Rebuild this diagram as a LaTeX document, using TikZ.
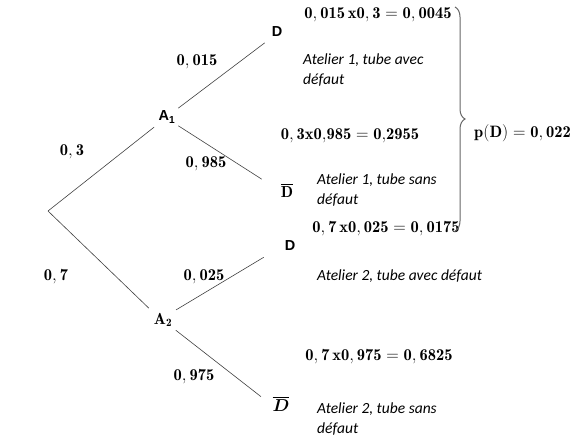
\documentclass[tikz,border=0pt]{standalone}
\usepackage{amsmath, amsfonts, amssymb}
\usepackage{fontspec}
\newfontfamily\arialfont{Liberation Sans}
\newfontfamily\calibrifont{Carlito}
\usetikzlibrary{decorations.pathreplacing,positioning}

\begin{document}
\begin{tikzpicture}[x=1pt,y=-1pt,
    branch/.style={draw=black!75,line width=0.6pt},
    proba/.style={inner sep=1pt,font=\fontsize{16.5}{19}\selectfont},
    issue/.style={inner sep=2pt,font=\fontsize{16}{18}\selectfont},
    sansissue/.style={issue,font=\arialfont\bfseries\fontsize{14.5}{17}\selectfont},
    comment/.style={anchor=north west,inner sep=0pt,align=left,
        font=\calibrifont\itshape\fontsize{15.5}{19.5}\selectfont}]
    \useasboundingbox (0,0) rectangle (575,442);
    % tree
    \coordinate (root) at (48,211);
    \node[sansissue] (A1) at (167,117) {A\textsubscript{1}};
    \node[issue] (A2) at (163,320) {$\mathbf{A_2}$};
    \node[sansissue] (D1) at (277,32) {D};
    \node[issue] (Db1) at (287,190) {$\overline{\mathbf{D}}$};
    \node[sansissue] (D2) at (290,246) {D};
    \node[issue] (Db2) at (281,404) {$\overline{\boldsymbol{D}}$};
    \draw[branch,shorten >=3pt] (root) -- (A1.south west);
    \draw[branch,shorten >=4pt] (root) -- (A2.north west);
    \draw[branch,shorten <=1pt,shorten >=6pt] (A1.north east) -- (D1.south west);
    \draw[branch,shorten <=1pt,shorten >=20pt] (A1.south east) -- (Db1.west);
    \draw[branch,shorten <=2pt,shorten >=22pt] (A2.north east) -- (D2.west);
    \draw[branch,shorten <=2pt,shorten >=12pt] (A2.south east) -- (Db2.west);
    % probabilities
    \node[proba] (p1) at (72,152) {$\mathbf{0,3}$};
    \node[proba] (p2) at (56,277) {$\mathbf{0,7}$};
    \node[proba] (p11) at (197,62) {$\mathbf{0,015}$};
    \node[proba] (p12) at (206,164) {$\mathbf{0,985}$};
    \node[proba] (p21) at (204,277) {$\mathbf{0,025}$};
    \node[proba] (p22) at (194,377) {$\mathbf{0,975}$};
    % results
    \node[proba] (r1) at (378,15) {$\mathbf{0,015\,x0,3=0,0045}$};
    \node[proba] (r2) at (350,136) {$\mathbf{0,3x0{,}985=0{,}2955}$};
    \node[proba] (r3) at (386,229) {$\mathbf{0,7\,x0,025=0,0175}$};
    \node[proba] (r4) at (379,357) {$\mathbf{0,7\,x0,975=0,6825}$};
    \node[comment] (c1) at (303,54) {Atelier 1, tube avec\\défaut};
    \node[comment] (c2) at (317,174) {Atelier 1, tube sans\\défaut};
    \node[comment] (c3) at (317,270) {Atelier 2, tube avec défaut};
    \node[comment] (c4) at (317,403) {Atelier 2, tube sans\\défaut};
    % total
    \draw[black!60,line width=1pt,decorate,decoration={brace,amplitude=10pt}]
        (455,7) -- (455,231);
    \node[proba,anchor=west] (pD) at (473,133) {$\mathbf{p(D)=0,022}$};
\end{tikzpicture}
\end{document}
